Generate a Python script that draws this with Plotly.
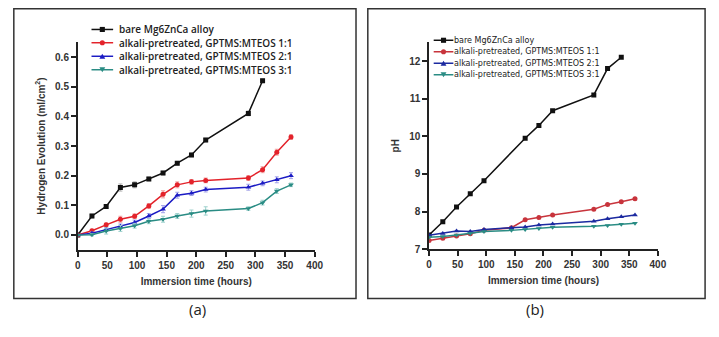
import plotly.graph_objects as go

# Immersion times (hours)
t_h2 = [0, 24, 48, 72, 96, 120, 144, 168, 192, 216, 288, 312, 336, 360]
t_bare_h2 = [0, 24, 48, 72, 96, 120, 144, 168, 192, 216, 288, 312]

# Hydrogen evolution (ml/cm^2)
h2_bare = [0.0, 0.064, 0.096, 0.160, 0.169, 0.189, 0.209, 0.242, 0.270, 0.320, 0.410, 0.520]
h2_11 = [0.0, 0.014, 0.034, 0.053, 0.063, 0.098, 0.137, 0.169, 0.179, 0.184, 0.192, 0.220, 0.279, 0.330]
h2_21 = [0.0, 0.006, 0.018, 0.029, 0.042, 0.064, 0.087, 0.134, 0.141, 0.153, 0.161, 0.174, 0.186, 0.200]
h2_31 = [0.0, 0.001, 0.013, 0.022, 0.031, 0.046, 0.053, 0.064, 0.072, 0.081, 0.089, 0.109, 0.148, 0.169]

err_bare = [0.0, 0.006, 0.006, 0.012, 0.010, 0.006, 0.006, 0.006, 0.006, 0.006, 0.008, 0.006]
err_11 = [0.0, 0.005, 0.006, 0.010, 0.008, 0.008, 0.012, 0.010, 0.008, 0.008, 0.008, 0.010, 0.010, 0.008]
err_21 = [0.0, 0.004, 0.006, 0.008, 0.008, 0.008, 0.012, 0.010, 0.008, 0.008, 0.010, 0.008, 0.010, 0.010]
err_31 = [0.0, 0.004, 0.010, 0.010, 0.008, 0.008, 0.010, 0.008, 0.012, 0.014, 0.006, 0.008, 0.008, 0.006]

# pH of the immersion medium
t_ph = [0, 24, 48, 72, 96, 144, 168, 192, 216, 288, 312, 336, 360]
t_bare_ph = [0, 24, 48, 72, 96, 168, 192, 216, 288, 312, 336]
ph_bare = [7.38, 7.73, 8.12, 8.47, 8.82, 9.95, 10.29, 10.68, 11.10, 11.80, 12.10]
ph_11 = [7.23, 7.29, 7.35, 7.41, 7.50, 7.57, 7.78, 7.84, 7.91, 8.06, 8.19, 8.26, 8.34]
ph_21 = [7.37, 7.42, 7.48, 7.47, 7.52, 7.57, 7.59, 7.64, 7.67, 7.74, 7.81, 7.86, 7.91]
ph_31 = [7.32, 7.34, 7.38, 7.42, 7.47, 7.50, 7.52, 7.55, 7.58, 7.61, 7.63, 7.66, 7.69]

names = ["bare Mg6ZnCa alloy",
         "alkali-pretreated, GPTMS:MTEOS 1:1",
         "alkali-pretreated, GPTMS:MTEOS 2:1",
         "alkali-pretreated, GPTMS:MTEOS 3:1"]
symbols = ["square", "circle", "triangle-up", "triangle-down"]
colors_a = ["#111111", "#e3232b", "#1c1cc4", "#2a8c84"]
light_a = ["#b0b0b0", "#f0a0a0", "#a0a0e8", "#9cd0cc"]
colors_b = ["#111111", "#c8343c", "#1c2aa0", "#2a8c84"]

W, H = 719, 337

fig = go.Figure()

series_a = [(t_bare_h2, h2_bare, err_bare), (t_h2, h2_11, err_11),
            (t_h2, h2_21, err_21), (t_h2, h2_31, err_31)]
for i, (x, y, e) in enumerate(series_a):
    fig.add_trace(go.Scatter(
        x=x, y=y, mode="lines+markers", name=names[i], showlegend=False,
        line=dict(color=colors_a[i], width=1.5),
        marker=dict(symbol=symbols[i], size=5, color=colors_a[i]),
        error_y=dict(type="data", array=e, visible=True,
                     color=light_a[i], thickness=1, width=2),
        xaxis="x", yaxis="y"))

series_b = [(t_bare_ph, ph_bare), (t_ph, ph_11), (t_ph, ph_21), (t_ph, ph_31)]
for i, (x, y) in enumerate(series_b):
    fig.add_trace(go.Scatter(
        x=x, y=y, mode="lines+markers", name=names[i], showlegend=False,
        line=dict(color=colors_b[i], width=1.5),
        marker=dict(symbol=symbols[i], size=5, color=colors_b[i]),
        xaxis="x2", yaxis="y2"))

tick_font = dict(family="Liberation Sans, Arial", size=10, color="#333333", weight="bold")
title_font = dict(family="Liberation Sans, Arial", size=10, color="#333333", weight="bold")
axis_common = dict(showline=True, linecolor="#222222", linewidth=1.5, ticks="outside",
                   ticklen=5, tickwidth=1.5, tickcolor="#222222", showgrid=False,
                   zeroline=False, tickfont=tick_font, mirror=False)

fig.update_layout(
    width=W, height=H, margin=dict(l=0, r=0, t=0, b=0),
    paper_bgcolor="white", plot_bgcolor="white", showlegend=False,
    xaxis=dict(domain=[76 / W, 317 / W], range=[0, 400], dtick=50, anchor="y",
               title=dict(text="Immersion time (hours)", font=title_font, standoff=8),
               **axis_common),
    yaxis=dict(domain=[1 - 254.3 / H, 1 - 43 / H], range=[-0.05, 0.65], dtick=0.1,
               tickformat=".1f", anchor="x",
               title=dict(text="Hydrogen Evolution (ml/cm<sup>2</sup>)", font=title_font, standoff=8),
               **axis_common),
    xaxis2=dict(domain=[433.3 / W, 666 / W], range=[0, 400], dtick=50, anchor="y2",
                title=dict(text="Immersion time (hours)", font=title_font, standoff=8),
                **axis_common),
    yaxis2=dict(domain=[1 - 253.7 / H, 1 - 43 / H], range=[7, 12.5], dtick=1, anchor="x2",
                title=dict(text="pH", font=title_font, standoff=8),
                **axis_common),
)


def px(x):
    return x / W


def py(y):
    return 1 - y / H


def legend_key(xc, yc, half_len, color, symbol, r=2.6):
    """Line sample with a centred marker, in pixel positions of the page."""
    fig.add_shape(type="line", xref="paper", yref="paper",
                  x0=px(xc - half_len), x1=px(xc + half_len), y0=py(yc), y1=py(yc),
                  line=dict(color=color, width=1.5))
    if symbol == "square":
        fig.add_shape(type="rect", xref="paper", yref="paper",
                      x0=px(xc - r), x1=px(xc + r), y0=py(yc + r), y1=py(yc - r),
                      line=dict(width=0), fillcolor=color)
    elif symbol == "circle":
        fig.add_shape(type="circle", xref="paper", yref="paper",
                      x0=px(xc - r), x1=px(xc + r), y0=py(yc + r), y1=py(yc - r),
                      line=dict(width=0), fillcolor=color)
    else:
        s = 1 if symbol == "triangle-up" else -1
        pts = [(xc - r - 0.4, yc + s * r), (xc + r + 0.4, yc + s * r), (xc, yc - s * r)]
        path = "M " + " L ".join(f"{px(a):.5f},{py(b):.5f}" for a, b in pts) + " Z"
        fig.add_shape(type="path", xref="paper", yref="paper", path=path,
                      line=dict(width=0), fillcolor=color)


# Legend of panel (a)
rows_a = [30, 43.5, 57.3, 71]
for i, yc in enumerate(rows_a):
    legend_key(101, yc, 11, colors_a[i], symbols[i])
    fig.add_annotation(text=names[i], x=px(117), y=py(yc), xref="paper", yref="paper",
                       xanchor="left", yanchor="middle", showarrow=False, borderpad=0,
                       font=dict(family="Open Sans", size=10, color="#222222", weight=600))

# Legend of panel (b)
rows_b = [41, 52.7, 64.4, 76.1]
for i, yc in enumerate(rows_b):
    legend_key(448, yc, 10, colors_b[i], symbols[i])
    fig.add_annotation(text=names[i], x=px(458), y=py(yc), xref="paper", yref="paper",
                       xanchor="left", yanchor="middle", showarrow=False, borderpad=0,
                       font=dict(family="DejaVu Sans", size=8, color="#222222"))

# Panel frames
for x0, x1 in [(11, 359), (371, 714)]:
    fig.add_shape(type="rect", xref="paper", yref="paper",
                  x0=px(x0), x1=px(x1), y0=py(304), y1=py(9),
                  line=dict(color="#333333", width=1.5), layer="below")

# Panel labels
for txt, xc in [("(a)", 187), ("(b)", 552)]:
    fig.add_annotation(text=txt, x=px(xc), y=py(327), xref="paper", yref="paper",
                       showarrow=False, font=dict(family="Open Sans", size=15, color="#222222"))

fig.write_html("out.html")
